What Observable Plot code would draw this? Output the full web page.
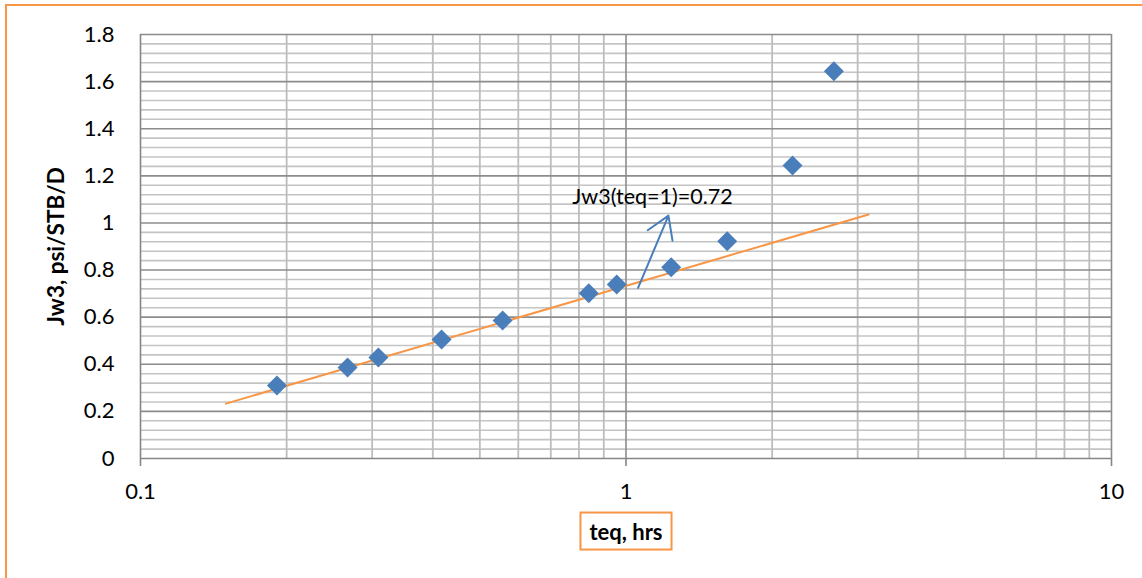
<!DOCTYPE html>
<html>
<head>
<meta charset="utf-8">
<script src="https://cdn.jsdelivr.net/npm/d3@7"></script>
<script src="https://cdn.jsdelivr.net/npm/@observablehq/plot@0.6"></script>
<style>
  html, body { margin: 0; padding: 0; background: #fff; overflow: hidden; }
  #wrap { position: relative; width: 1142px; height: 578px; }
  #border { position: absolute; left: 5px; top: 4px; width: 1160px; height: 600px;
            border-top: 2px solid #F79646; border-left: 2px solid #F79646; pointer-events: none; }
</style>
</head>
<body>
<div id="wrap"><div id="border"></div></div>
<script>
// ---- data ----
const teq = [0.191, 0.267, 0.309, 0.417, 0.557, 0.838, 0.957, 1.239, 1.616, 2.203, 2.68];
const jw3 = [0.310, 0.386, 0.429, 0.505, 0.586, 0.702, 0.739, 0.812, 0.922, 1.244, 1.644];
const trendX = [0.15, 3.16];
const trendY = [0.233, 1.036];
const xTicks = [0.1, 1, 10];
const yTicks = [0, 0.2, 0.4, 0.6, 0.8, 1, 1.2, 1.4, 1.6, 1.8];
const yMinor = d3.range(0, 1.8001, 0.04).map(v => +v.toFixed(2));
const xMinor = [0.2, 0.3, 0.4, 0.5, 0.6, 0.7, 0.8, 0.9, 2, 3, 4, 5, 6, 7, 8, 9];
const annotation = {text: "Jw3(teq=1)=0.72", x: 1.134, y: 1.108};
const arrow = [{x1: 1.059, y1: 0.7245, x2: 1.223, y2: 1.031}];
const xLabel = "teq, hrs";
const yLabel = "Jw3, psi/STB/D";

const points = teq.map((t, i) => ({teq: t, jw3: jw3[i]}));
const trend = trendX.map((t, i) => ({teq: t, jw3: trendY[i]}));

const FONT = "Lato, 'Open Sans', sans-serif";

const chart = Plot.plot({
  width: 1142,
  height: 578,
  marginLeft: 140,
  marginRight: 31,
  marginTop: 34,
  marginBottom: 120,
  style: {fontFamily: FONT, background: "transparent", overflow: "visible"},
  x: {type: "log", domain: [0.1, 10]},
  y: {domain: [0, 1.8]},
  marks: [
    Plot.ruleY(yMinor.filter(v => !yTicks.some(t => Math.abs(t - v) < 1e-6)), {stroke: "#c4c4c4", strokeWidth: 1.6}),
    Plot.ruleX(xMinor, {stroke: "#bdbdbd", strokeWidth: 1.8}),
    Plot.ruleY(yTicks.filter(v => v > 0), {stroke: "#8c8c8c", strokeWidth: 1.6}),
    Plot.ruleX([1, 10], {stroke: "#8c8c8c", strokeWidth: 1.6}),
    Plot.ruleY([0], {stroke: "#868686", strokeWidth: 1.6}),
    Plot.ruleX([0.1], {stroke: "#868686", strokeWidth: 1.6}),
    Plot.axisX({ticks: xTicks, tickFormat: d => String(d), tickSize: 8, tickPadding: 17,
                fontSize: 22, stroke: "#868686", strokeWidth: 1.6, label: null, color: "#000"}),
    Plot.axisY({ticks: yTicks, tickFormat: d => String(+d.toFixed(1)), tickSize: 0, tickPadding: 26,
                fontSize: 22, label: null, color: "#000"}),
    Plot.line(trend, {x: "teq", y: "jw3", stroke: "#F79646", strokeWidth: 2}),
    Plot.dot(points, {x: "teq", y: "jw3", symbol: "diamond2", r: 9, fill: "#4A7EBB", stroke: "none"}),
    Plot.arrow(arrow, {x1: "x1", y1: "y1", x2: "x2", y2: "y2", stroke: "#4A7EBB", strokeWidth: 2,
                       headLength: 19, headAngle: 64}),
    Plot.text([annotation], {x: "x", y: "y", text: "text", fontSize: 21.5, fill: "#000",
                             textAnchor: "middle", lineAnchor: "middle"}),
    Plot.text([yLabel], {frameAnchor: "left", dx: -84, rotate: -90, fontSize: 22.5, fontWeight: "bold",
                         fill: "#000", textAnchor: "middle", lineAnchor: "middle"}),
    Plot.text([xLabel], {frameAnchor: "bottom", dy: 74, fontSize: 22, fontWeight: "bold",
                         fill: "#000", textAnchor: "middle", lineAnchor: "middle"})
  ]
});

document.getElementById("wrap").insertBefore(chart, document.getElementById("border"));

// orange box around the x-axis title
d3.select(chart).selectAll("text").each(function() {
  if (this.textContent === xLabel) {
    const b = this.getBBox();
    d3.select(this.parentNode).insert("rect", () => this)
      .attr("x", b.x - 9).attr("y", b.y - 5)
      .attr("width", b.width + 18).attr("height", b.height + 10)
      .attr("fill", "#fff").attr("stroke", "#F79646").attr("stroke-width", 2)
      .attr("transform", this.getAttribute("transform"));
  }
});
</script>
</body>
</html>
